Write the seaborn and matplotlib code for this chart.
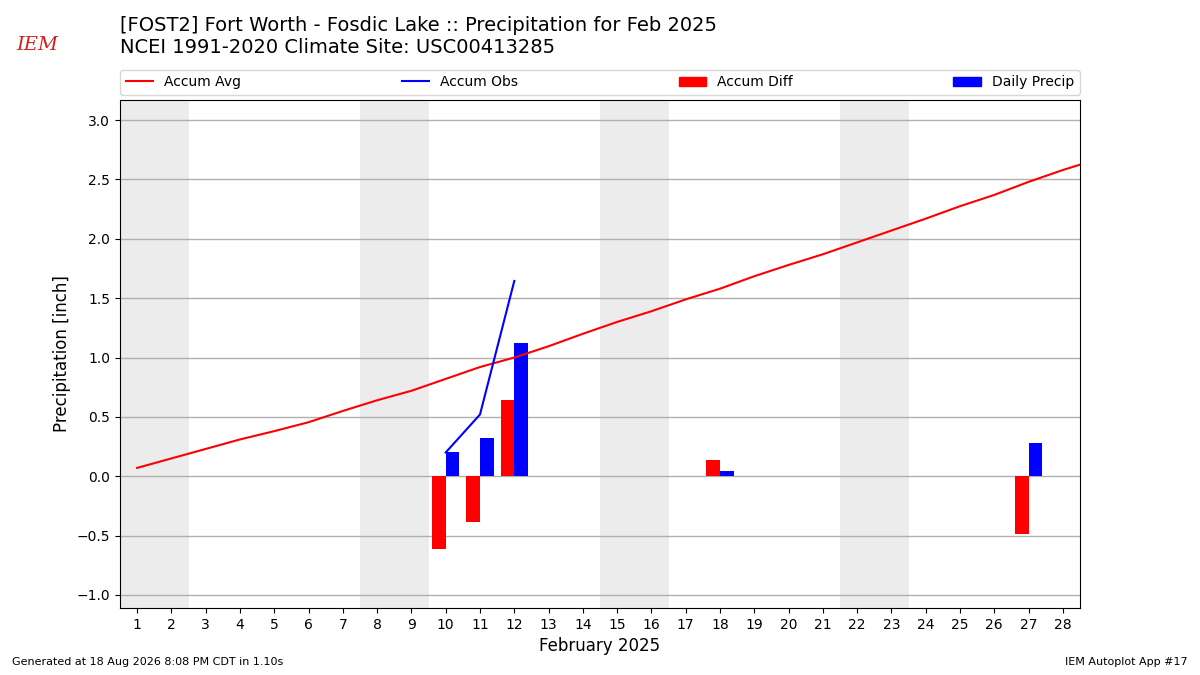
import numpy as np
import pandas as pd
import matplotlib
matplotlib.use("Agg")
import matplotlib.pyplot as plt
import seaborn as sns
from matplotlib.patches import Patch
from matplotlib.lines import Line2D

# ---- data ----
days = list(range(1, 30))
accum_avg = [0.07, 0.15, 0.23, 0.31, 0.38, 0.455, 0.55, 0.64, 0.72, 0.82,
             0.92, 1.00, 1.095, 1.20, 1.30, 1.39, 1.49, 1.58, 1.685, 1.78,
             1.87, 1.97, 2.07, 2.17, 2.275, 2.37, 2.48, 2.58, 2.67]

obs_days = [10, 11, 12]
accum_obs = [0.20, 0.52, 1.645]

precip_days = [10, 11, 12, 18, 27]
accum_diff = [-0.61, -0.385, 0.64, 0.135, -0.49]
daily_precip = [0.20, 0.32, 1.12, 0.04, 0.28]

weekends = [(0.5, 2.5), (7.5, 9.5), (14.5, 16.5), (21.5, 23.5)]

df_avg = pd.DataFrame({"day": days, "precip": accum_avg})
df_obs = pd.DataFrame({"day": obs_days, "precip": accum_obs})

fig = plt.figure(figsize=(12, 6.75), dpi=100)
ax = fig.add_axes([0.1, 0.0993, 0.8, 0.7526])

for start, end in weekends:
    ax.axvspan(start, end, color="#ececec", zorder=0, lw=0)

ax.yaxis.grid(True, color="#b0b0b0", linewidth=1, zorder=1)

ax.bar(precip_days, accum_diff, width=-0.4, align="edge", color="red", zorder=2)
ax.bar(precip_days, daily_precip, width=0.4, align="edge", color="blue", zorder=2)

sns.lineplot(data=df_avg, x="day", y="precip", color="red", lw=1.5, ax=ax, zorder=3)
sns.lineplot(data=df_obs, x="day", y="precip", color="blue", lw=1.5, ax=ax, zorder=3)

ax.set_xlim(0.5, 28.5)
ax.set_ylim(-1.11, 3.17)
ax.set_xticks(range(1, 29))
ax.set_yticks(np.arange(-1.0, 3.01, 0.5))
ax.set_xlabel("February 2025", fontsize=12)
ax.set_ylabel("Precipitation [inch]", fontsize=12)

handles = [Line2D([0], [0], color="red", lw=1.5),
           Line2D([0], [0], color="blue", lw=1.5),
           Patch(color="red"), Patch(color="blue")]
labels = ["Accum Avg", "Accum Obs", "Accum Diff", "Daily Precip"]
ax.legend(handles, labels, ncol=4, mode="expand", loc="lower left",
          bbox_to_anchor=(0, 1.01, 1, 0.05), borderaxespad=0, fontsize=10)

fig.text(0.1, 0.976,
         "[FOST2] Fort Worth - Fosdic Lake :: Precipitation for Feb 2025\n"
         "NCEI 1991-2020 Climate Site: USC00413285",
         fontsize=14, va="top", ha="left")
fig.text(0.031, 0.933, "IEM", color="#d42020", fontsize=14, style="italic",
         family="DejaVu Serif", ha="center", va="center")

fig.text(0.01, 0.015, "Generated at 18 Aug 2026 8:08 PM CDT in 1.10s", fontsize=8)
fig.text(0.99, 0.015, "IEM Autoplot App #17", fontsize=8, ha="right")

fig.savefig("out.png", dpi=100)
